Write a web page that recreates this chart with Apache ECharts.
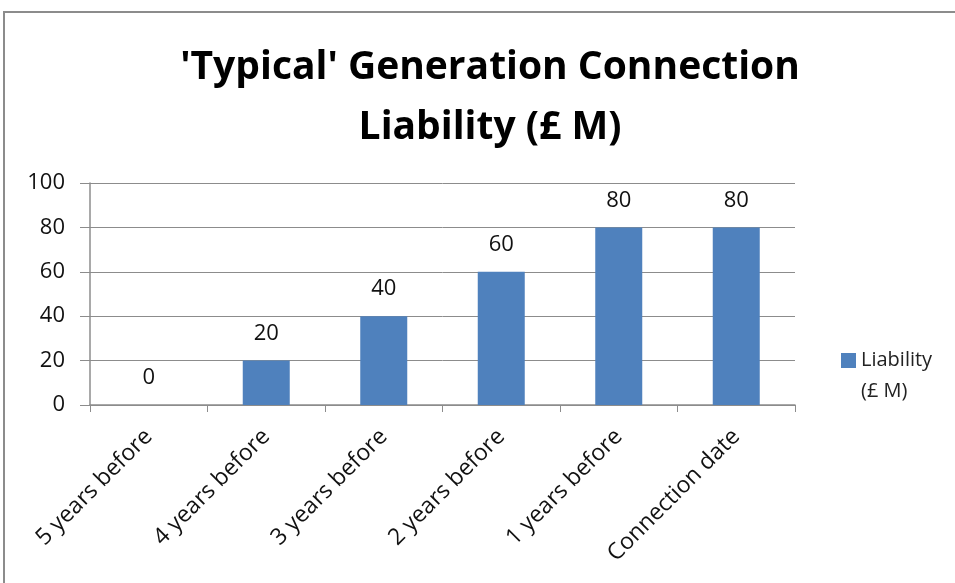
<!DOCTYPE html>
<html>
<head>
<meta charset="utf-8">
<script src="https://cdn.jsdelivr.net/npm/echarts@6/dist/echarts.min.js"></script>
<style>
    html, body { margin: 0; padding: 0; background: #fff; }
    #chart { width: 955px; height: 583px; }
</style>
</head>
<body>
<div id="chart"></div>
<script>
// Datos del gráfico
const categories = ['5 years before', '4 years before', '3 years before', '2 years before', '1 years before', 'Connection date'];
const liability = [0, 20, 40, 60, 80, 80];
const seriesName = 'Liability\n(£ M)';

var myChart = echarts.init(document.getElementById('chart'));

var option = {
    backgroundColor: '#fff',
    textStyle: { fontFamily: 'Open Sans' },
    graphic: [{
        type: 'rect',
        shape: { x: 4, y: 12, width: 1000, height: 700 },
        style: { fill: 'none', stroke: '#8c8c8c', lineWidth: 2 },
        silent: true
    }],
    title: {
        text: "'Typical' Generation Connection\nLiability (£ M)",
        left: 485,
        top: 33,
        textAlign: 'center',
        textStyle: {
            fontFamily: 'Open Sans',
            fontSize: 39,
            fontWeight: 'bold',
            color: '#000',
            lineHeight: 60
        }
    },
    legend: {
        left: 836,
        top: 340,
        itemWidth: 15,
        itemHeight: 46,
        itemGap: 7,
        // cuadrado arriba, alineado con la primera línea del texto
        icon: 'path://M0,0h15v15h-15z M0,46h0.01',
        textStyle: { fontSize: 20, color: '#222', lineHeight: 31 },
        data: [seriesName]
    },
    grid: { left: 90, top: 183, width: 705, height: 222 },
    xAxis: {
        type: 'category',
        data: categories,
        axisLine: { lineStyle: { color: '#8c8c8c', width: 1.5 } },
        axisTick: { show: true, length: 7, lineStyle: { color: '#8c8c8c' } },
        axisLabel: { rotate: 45, fontSize: 23, color: '#111', margin: 28, interval: 0 }
    },
    yAxis: {
        type: 'value',
        min: 0,
        max: 100,
        interval: 20,
        axisLine: { show: true, lineStyle: { color: '#8c8c8c', width: 1.5 } },
        axisTick: { show: true, length: 10, lineStyle: { color: '#8c8c8c' } },
        axisLabel: { fontSize: 22, color: '#111', margin: 25 },
        splitLine: { lineStyle: { color: '#8c8c8c', width: 1 } }
    },
    series: [{
        name: seriesName,
        type: 'bar',
        data: liability,
        barCategoryGap: '60%',
        itemStyle: { color: '#4f81bd' },
        label: { show: true, position: 'top', distance: 16, fontSize: 22, color: '#111' }
    }]
};

myChart.setOption(option);

window.addEventListener('resize', function () {
    myChart.resize();
});
</script>
</body>
</html>
